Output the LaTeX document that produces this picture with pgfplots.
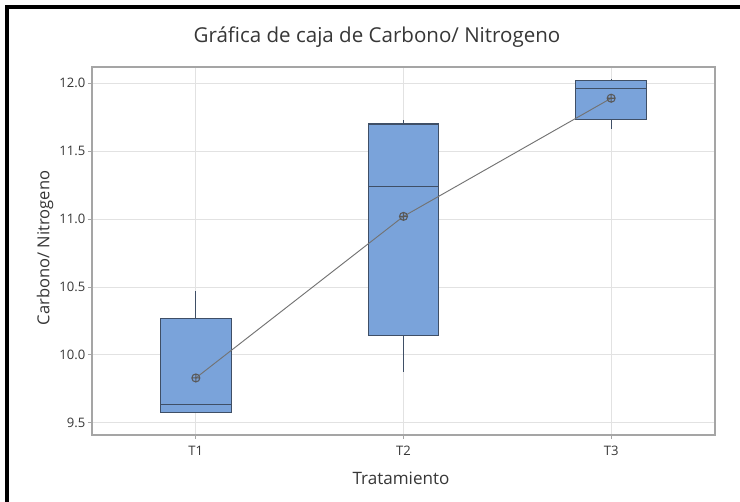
\documentclass[border=0pt]{standalone}
\usepackage{pgfplots}
\pgfplotsset{compat=1.18}
\usepackage{fontspec}
\setmainfont{Open Sans}
\definecolor{boxfill}{RGB}{122,163,218}
\definecolor{boxedge}{RGB}{63,79,102}
\definecolor{gridc}{RGB}{226,226,226}
\definecolor{framec}{RGB}{165,165,165}
\definecolor{txt}{RGB}{55,55,55}
\begin{document}
\begin{tikzpicture}
\useasboundingbox (0,0) rectangle (555pt,376.5pt);
\fill[white] (0,0) rectangle (555pt,376.5pt);
\begin{axis}[
  at={(69pt,50.25pt)}, anchor=south west,
  scale only axis, width=467.25pt, height=276pt,
  xmin=0.5, xmax=3.5, ymin=9.41, ymax=12.12,
  xtick={1,2,3}, xticklabels={T1,T2,T3},
  ytick={9.5,10,10.5,11,11.5,12},
  /pgf/number format/assume math mode=true,
  /pgf/number format/fixed,
  /pgf/number format/fixed zerofill,
  /pgf/number format/precision=1,
  ticklabel style={font=\fontsize{9.8}{11}\selectfont, text=txt},
  xticklabel style={yshift=-2pt},
  yticklabel style={xshift=1.5pt},
  tick align=outside, tick pos=left,
  major tick length=3pt,
  tick style={framec, line width=0.6pt},
  xmajorgrids, ymajorgrids,
  grid style={gridc, line width=0.7pt},
  axis line style={framec, line width=1pt},
  clip=false,
]
% boxes (Q1..Q3)
\addplot[fill=boxfill, draw=boxedge, line width=0.8pt] coordinates {(0.83,9.574) (1.17,9.574) (1.17,10.27) (0.83,10.27)} -- cycle;
\addplot[fill=boxfill, draw=boxedge, line width=0.8pt] coordinates {(1.83,10.14) (2.17,10.14) (2.17,11.70) (1.83,11.70)} -- cycle;
\addplot[fill=boxfill, draw=boxedge, line width=0.8pt] coordinates {(2.83,11.73) (3.17,11.73) (3.17,12.02) (2.83,12.02)} -- cycle;
% medians
\addplot[boxedge, line width=0.8pt] coordinates {(0.83,9.635) (1.17,9.635)};
\addplot[boxedge, line width=0.8pt] coordinates {(1.83,11.24) (2.17,11.24)};
\addplot[boxedge, line width=0.8pt] coordinates {(2.83,11.96) (3.17,11.96)};
% whiskers
\addplot[boxedge, line width=0.8pt] coordinates {(1,10.27) (1,10.47)};
\addplot[boxedge, line width=0.8pt] coordinates {(2,11.70) (2,11.73)};
\addplot[boxedge, line width=0.8pt] coordinates {(2,10.14) (2,9.876)};
\addplot[boxedge, line width=0.8pt] coordinates {(3,12.02) (3,12.03)};
\addplot[boxedge, line width=0.8pt] coordinates {(3,11.73) (3,11.66)};
% means
\addplot[color=gray!90!black, line width=0.7pt, mark=oplus, mark size=3pt, mark options={solid, line width=0.8pt, draw=gray!70!black, fill=none}] coordinates {(1,9.83) (2,11.02) (3,11.89)};
\end{axis}
\node[text=txt, font=\fontsize{15.4}{17}\selectfont] at (282.75pt,348.75pt) {Gráfica de caja de Carbono/ Nitrogeno};
\node[text=txt, font=\fontsize{12.8}{14}\selectfont] at (300.75pt,18pt) {Tratamiento};
\node[text=txt, font=\fontsize{12.4}{14}\selectfont, rotate=90] at (33.75pt,190.5pt) {Carbono/ Nitrogeno};
\draw[black, line width=3pt] (5.25pt,0) -- (5.25pt,370.9pt) -- (555pt,370.9pt);
\end{tikzpicture}
\end{document}
